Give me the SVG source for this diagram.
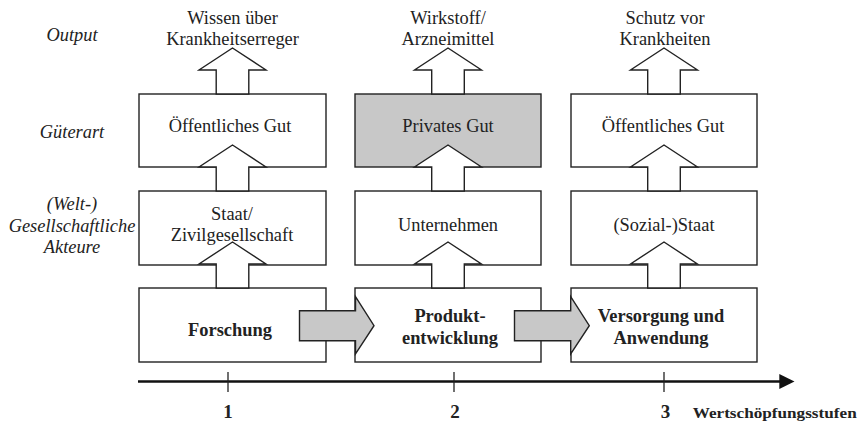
<svg xmlns="http://www.w3.org/2000/svg" width="862" height="436" viewBox="0 0 862 436">
<style>
text{font-family:"Liberation Serif","Times New Roman",serif;fill:#222;text-anchor:middle}
.t{font-size:18.4px}
.i{font-size:18.4px;font-style:italic}
.b{font-size:18.4px;font-weight:bold}
.box{fill:#fff;stroke:#222;stroke-width:1.4}
.gbox{fill:#c8c8c8;stroke:#222;stroke-width:1.4}
.up{fill:#fff;stroke:#222;stroke-width:1.4;stroke-linejoin:miter}
.ga{fill:#c8c8c8;stroke:#222;stroke-width:1.4}
.axis{stroke:#111;stroke-width:2.6;fill:none}
.tick{stroke:#222;stroke-width:1.3}
</style>
<defs>
<path id="uparrow" d="M -16.3 0 L -16.3 -24 L -33.5 -24 L 0 -46 L 33.5 -24 L 16.3 -24 L 16.3 0 Z"/>
</defs>

<g id="row-labels">
<text class="i" x="72" y="41">Output</text>
<text class="i" x="72" y="137.5">Güterart</text>
<text class="i" x="72" y="210">(Welt-)</text>
<text class="i" x="72" y="231.5">Gesellschaftliche</text>
<text class="i" x="72" y="253">Akteure</text>
</g>

<g id="output1"><text class="t" x="232.5" y="23.5">Wissen über</text><text class="t" x="232.5" y="44.5">Krankheitserreger</text></g>
<g id="output2"><text class="t" x="448" y="23.5">Wirkstoff/</text><text class="t" x="448" y="44.5">Arzneimittel</text></g>
<g id="output3"><text class="t" x="665" y="23.5">Schutz vor</text><text class="t" x="665" y="44.5">Krankheiten</text></g>

<g id="gut1"><rect class="box" x="139" y="94" width="187" height="73"/><text class="t" x="230" y="132">Öffentliches Gut</text></g>
<g id="gut2"><rect class="gbox" x="355" y="94" width="186" height="73"/><text class="t" x="448" y="132">Privates Gut</text></g>
<g id="gut3"><rect class="box" x="571" y="94" width="186" height="73"/><text class="t" x="663" y="132">Öffentliches Gut</text></g>

<g id="akteur1"><rect class="box" x="139" y="191" width="187" height="74"/><text class="t" x="232" y="220">Staat/</text><text class="t" x="232" y="241">Zivilgesellschaft</text></g>
<g id="akteur2"><rect class="box" x="355" y="191" width="186" height="74"/><text class="t" x="448" y="231">Unternehmen</text></g>
<g id="akteur3"><rect class="box" x="571" y="191" width="186" height="74"/><text class="t" x="664" y="231">(Sozial-)Staat</text></g>

<g id="stufe1"><rect class="box" x="139" y="288" width="187" height="74"/><text class="b" x="230" y="336">Forschung</text></g>
<g id="stufe2"><rect class="box" x="355" y="288" width="186" height="74"/><text class="b" x="450" y="322">Produkt-</text><text class="b" x="450" y="343.5">entwicklung</text></g>
<g id="stufe3"><rect class="box" x="571" y="288" width="186" height="74"/><text class="b" x="661" y="322">Versorgung und</text><text class="b" x="661" y="343.5">Anwendung</text></g>

<g id="connectors">
<use href="#uparrow" class="up" transform="translate(232.5,94)"/>
<use href="#uparrow" class="up" transform="translate(448,94)"/>
<use href="#uparrow" class="up" transform="translate(664,94)"/>
<use href="#uparrow" class="up" transform="translate(232.5,191)"/>
<use href="#uparrow" class="up" transform="translate(448,191)"/>
<use href="#uparrow" class="up" transform="translate(664,191)"/>
<use href="#uparrow" class="up" transform="translate(232.5,288)"/>
<use href="#uparrow" class="up" transform="translate(448,288)"/>
<use href="#uparrow" class="up" transform="translate(664,288)"/>
<polygon class="ga" points="299.5,310.7 355.5,310.7 355.5,296.7 374,325.7 355.5,354 355.5,340.7 299.5,340.7"/>
<polygon class="ga" points="514.5,310.7 570.7,310.7 570.7,296.7 589.3,325.7 570.7,354 570.7,340.7 514.5,340.7"/>
</g>

<g id="axis">
<line class="axis" x1="138" y1="381.5" x2="781" y2="381.5"/>
<polygon points="779.3,374 794.5,381.5 779.3,389" fill="#111"/>
<line class="tick" x1="228" y1="372" x2="228" y2="392"/>
<line class="tick" x1="454" y1="372" x2="454" y2="392"/>
<line class="tick" x1="664" y1="372" x2="664" y2="392"/>
<text class="b" x="228" y="418" style="font-size:19px">1</text>
<text class="b" x="455" y="418" style="font-size:19px">2</text>
<text class="b" x="665.5" y="418" style="font-size:19px">3</text>
<text class="b" x="692.7" y="418" style="font-size:15px;text-anchor:start" textLength="164" lengthAdjust="spacingAndGlyphs">Wertschöpfungsstufen</text>
</g>
</svg>
